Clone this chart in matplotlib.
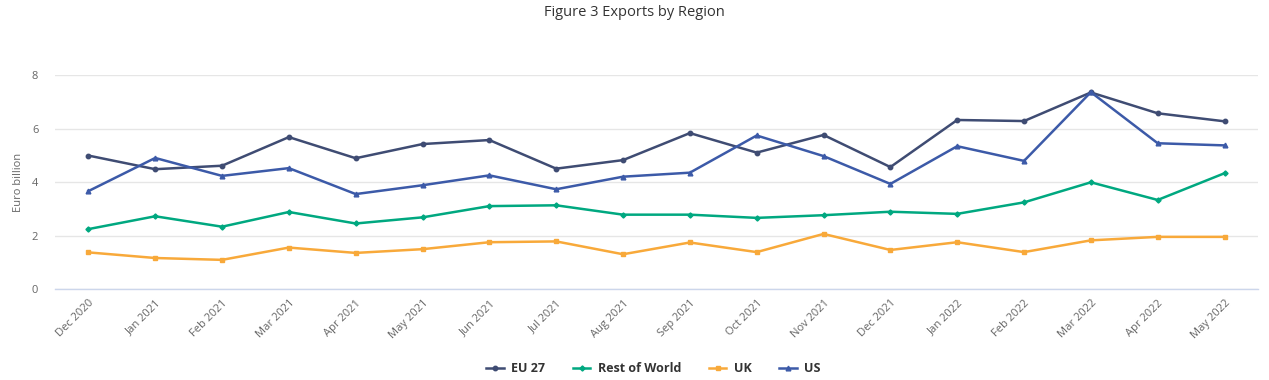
import matplotlib
matplotlib.use("Agg")
import matplotlib.pyplot as plt
from matplotlib.lines import Line2D

months = ["Dec 2020", "Jan 2021", "Feb 2021", "Mar 2021", "Apr 2021", "May 2021",
          "Jun 2021", "Jul 2021", "Aug 2021", "Sep 2021", "Oct 2021", "Nov 2021",
          "Dec 2021", "Jan 2022", "Feb 2022", "Mar 2022", "Apr 2022", "May 2022"]

eu27 = [5.00, 4.49, 4.62, 5.69, 4.90, 5.43, 5.58, 4.51, 4.83, 5.84, 5.11, 5.77,
        4.57, 6.33, 6.29, 7.36, 6.58, 6.28]
rest_of_world = [2.25, 2.73, 2.34, 2.89, 2.46, 2.69, 3.11, 3.14, 2.79, 2.79, 2.67, 2.77,
                 2.90, 2.82, 3.25, 4.00, 3.34, 4.34]
uk = [1.38, 1.17, 1.10, 1.56, 1.36, 1.50, 1.76, 1.79, 1.31, 1.75, 1.39, 2.07,
      1.47, 1.76, 1.39, 1.83, 1.96, 1.96]
us = [3.67, 4.91, 4.24, 4.53, 3.56, 3.89, 4.26, 3.74, 4.21, 4.36, 5.75, 4.98,
      3.94, 5.35, 4.80, 7.37, 5.46, 5.38]

series_names = ["EU 27", "Rest of World", "UK", "US"]
series_values = [eu27, rest_of_world, uk, us]
colors = ["#3f4c73", "#00a880", "#f8a93a", "#3c5aa8"]
markers = ["o", "D", "s", "^"]
msizes = [3.2, 2.6, 3.2, 3.4]
yticks = [0, 2, 4, 6, 8]

plt.rcParams['font.family'] = ['Open Sans', 'DejaVu Sans']

fig = plt.figure(figsize=(12.69, 3.80), dpi=100)
ax = fig.add_axes([0.0433, 0.2387, 0.9480, 0.5631])

x = list(range(len(months)))
for name, vals, c, m, ms in zip(series_names, series_values, colors, markers, msizes):
    ax.plot(x, vals, color=c, lw=1.8, marker=m, markersize=ms, label=name, zorder=3)

ax.set_xlim(-0.5, len(months) - 0.5)
ax.set_ylim(0, 8)
ax.set_yticks(yticks)
ax.set_yticklabels([str(t) for t in yticks])
ax.set_xticks(x)
ax.set_xticklabels(months, rotation=45, ha="right", rotation_mode="anchor")

ax.grid(axis="y", color="#e6e6e6", lw=1)
ax.set_axisbelow(True)
for s in ["top", "right", "left"]:
    ax.spines[s].set_visible(False)
ax.spines["bottom"].set_color("#ccd6eb")
ax.spines["bottom"].set_linewidth(1)
ax.tick_params(axis="both", length=0, colors="#666666", labelsize=8)
ax.tick_params(axis="y", pad=12)
ax.tick_params(axis="x", pad=6)

ax.set_ylabel("Euro billion", color="#666666", fontsize=8)
ax.yaxis.set_label_coords(-0.026, 0.5)

fig.text(0.5, 0.966, "Figure 3 Exports by Region", ha="center", va="center",
         fontsize=10.5, color="#333333")

handles = [Line2D([0], [0], color=c, lw=1.8, marker=m, markersize=ms)
           for c, m, ms in zip(colors, markers, msizes)]
leg = fig.legend(handles, series_names, loc="center", bbox_to_anchor=(0.515, 0.03),
                 ncol=4, frameon=False, fontsize=9, handlelength=1.4,
                 columnspacing=2.2, handletextpad=0.6)
for t in leg.get_texts():
    t.set_fontweight("bold")
    t.set_color("#333333")

fig.savefig("out.png", dpi=100)
